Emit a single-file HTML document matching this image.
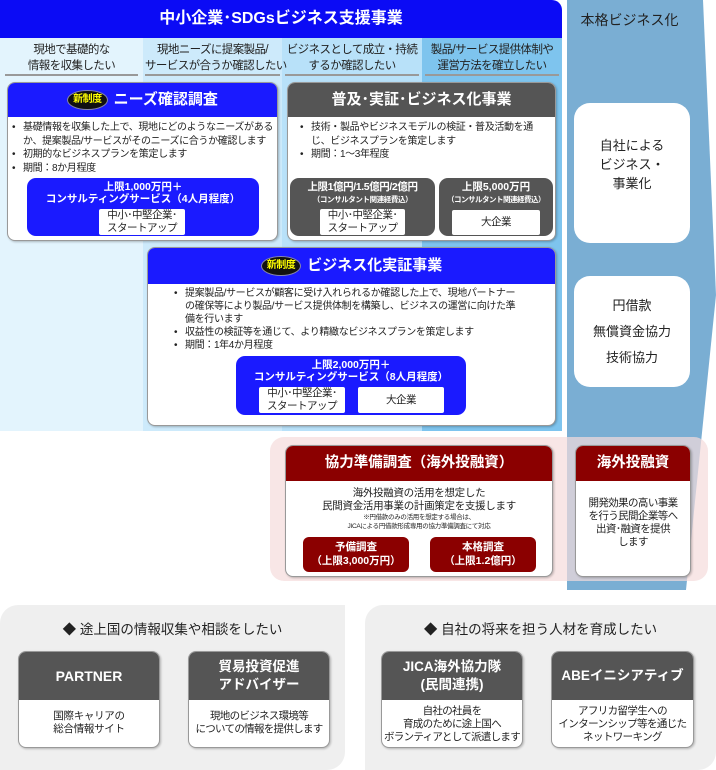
<!DOCTYPE html>
<html><head><meta charset="utf-8"><style>
*{margin:0;padding:0;box-sizing:border-box}
body{width:716px;height:770px;position:relative;background:#fff;font-family:"Liberation Sans","Noto Sans CJK JP",sans-serif;overflow:hidden;color:#222}
.a{position:absolute}
.c{text-align:center}
.card{position:absolute;background:#fff;border:1px solid #999;border-radius:8px;overflow:hidden;box-shadow:1px 1px 2px rgba(0,0,0,.25)}
.hd{color:#fff;font-weight:bold;text-align:center;white-space:nowrap}
.blue{background:#1a1aff}
.gray{background:#555}
.red{background:#8b0000}
ul{list-style:none;font-size:10px;line-height:13.5px;letter-spacing:-0.35px}
ul li{padding-left:13px;position:relative}
ul li:before{content:"•";position:absolute;left:2px}
.wb{position:absolute;background:#fff;border-radius:2px;font-size:10.5px;line-height:12.5px;text-align:center;color:#222;letter-spacing:-0.5px;font-weight:normal}
.badge{display:inline-block;background:#111;color:#ff0;border:1px solid #88a;border-radius:50%;font-size:10px;line-height:16px;padding:1px 5px;vertical-align:middle;margin-right:6px;letter-spacing:-0.5px}
.lbl{position:absolute;top:40px;height:36px;font-size:11.5px;line-height:16px;text-align:center;border-bottom:2px solid #999;padding-top:2px;letter-spacing:-0.6px;white-space:nowrap}
.t{letter-spacing:-0.3px}
</style></head><body>
<div class="a" style="left:0;top:38px;width:143px;height:393px;background:#e3f4fd"></div>
<div class="a" style="left:143px;top:38px;width:139px;height:393px;background:#cdeafb"></div>
<div class="a" style="left:282px;top:38px;width:140px;height:393px;background:#b8e1f9"></div>
<div class="a" style="left:422px;top:38px;width:140px;height:393px;background:#7ec4ee"></div>
<div class="a hd blue" style="left:0;top:0;width:562px;height:38px;border-radius:0 10px 0 0;font-size:16px;line-height:38px;background:#0b0bf5">中小企業･SDGsビジネス支援事業</div>
<div class="lbl" style="left:5px;width:133px">現地で基礎的な<br>情報を収集したい</div>
<div class="lbl" style="left:145px;width:135px">現地ニーズに提案製品/<br>サービスが合うか確認したい</div>
<div class="lbl" style="left:285px;width:134px">ビジネスとして成立・持続<br>するか確認したい</div>
<div class="lbl" style="left:425px;width:134px">製品/サービス提供体制や<br>運営方法を確立したい</div>
<svg class="a" style="left:0;top:0" width="716" height="770"><polygon points="567,0 703,0 716,295 686,590 567,590" fill="#7aaed3"/></svg>
<div class="a c" style="left:567px;top:10px;width:125px;font-size:14px;color:#222">本格ビジネス化</div>
<div class="a c" style="left:574px;top:103px;width:116px;height:140px;background:#fff;border-radius:16px;font-size:13px;line-height:19px;padding-top:33px">自社による<br>ビジネス・<br>事業化</div>
<div class="a c" style="left:574px;top:276px;width:116px;height:111px;background:#fff;border-radius:16px;font-size:13px;line-height:26px;padding-top:17px">円借款<br>無償資金協力<br>技術協力</div>
<!-- card1 -->
<div class="card" style="left:7px;top:82px;width:271px;height:159px">
<div class="hd blue" style="height:34px;font-size:15px;line-height:34px"><span class="badge">新制度</span>ニーズ確認調査</div>
<ul style="margin:4px 2px 0 2px"><li>基礎情報を収集した上で、現地にどのようなニーズがあるか、提案製品/サービスがそのニーズに合うか確認します</li><li>初期的なビジネスプランを策定します</li><li>期間：8か月程度</li></ul>
</div>
<div class="a hd blue" style="left:27px;top:178px;width:232px;height:58px;border-radius:9px;font-size:10.5px;line-height:12px;padding-top:3px">上限1,000万円＋<br>コンサルティングサービス（4人月程度）</div>
<div class="wb" style="left:99px;top:209px;width:86px;height:26px">中小･中堅企業･<br>スタートアップ</div>
<!-- card2 -->
<div class="card" style="left:287px;top:82px;width:269px;height:159px">
<div class="hd gray" style="height:34px;font-size:15px;line-height:34px">普及･実証･ビジネス化事業</div>
<ul style="margin:4px 6px 0 10px"><li>技術・製品やビジネスモデルの検証・普及活動を通じ、ビジネスプランを策定します</li><li>期間：1～3年程度</li></ul>
</div>
<div class="a hd gray" style="left:290px;top:178px;width:145px;height:58px;border-radius:9px;font-size:10.5px;line-height:12px;padding-top:3px;letter-spacing:-0.4px">上限1億円/1.5億円/2億円<br><span style="font-size:7.5px">（コンサルタント関連経費込）</span></div>
<div class="wb" style="left:320px;top:209px;width:85px;height:26px">中小･中堅企業･<br>スタートアップ</div>
<div class="a hd gray" style="left:439px;top:178px;width:114px;height:58px;border-radius:9px;font-size:10.5px;line-height:12px;padding-top:3px">上限5,000万円<br><span style="font-size:7.5px;letter-spacing:-0.5px">（コンサルタント関連経費込）</span></div>
<div class="wb" style="left:452px;top:210px;width:88px;height:25px;line-height:25px">大企業</div>
<!-- card3 -->
<div class="card" style="left:147px;top:247px;width:409px;height:179px">
<div class="hd blue" style="height:36px;font-size:15px;line-height:36px"><span class="badge">新制度</span>ビジネス化実証事業</div>
<ul style="margin:3px 32px 0 24px;line-height:13px"><li>提案製品/サービスが顧客に受け入れられるか確認した上で、現地パートナーの確保等により製品/サービス提供体制を構築し、ビジネスの運営に向けた準備を行います</li><li>収益性の検証等を通じて、より精緻なビジネスプランを策定します</li><li>期間：1年4か月程度</li></ul>
</div>
<div class="a hd blue" style="left:236px;top:356px;width:230px;height:59px;border-radius:9px;font-size:10.5px;line-height:12px;padding-top:3px">上限2,000万円＋<br>コンサルティングサービス（8人月程度）</div>
<div class="wb" style="left:259px;top:387px;width:86px;height:26px">中小･中堅企業･<br>スタートアップ</div>
<div class="wb" style="left:358px;top:387px;width:86px;height:26px;line-height:26px">大企業</div>
<!-- pink -->
<div class="a" style="left:270px;top:437px;width:438px;height:144px;background:rgba(245,220,220,.7);border-radius:14px"></div>
<div class="card" style="left:285px;top:445px;width:268px;height:132px">
<div class="hd red" style="height:35px;font-size:14.5px;line-height:35px">協力準備調査（海外投融資）</div>
<div class="c t" style="font-size:10.5px;line-height:13px;margin-top:6px">海外投融資の活用を想定した<br>民間資金活用事業の計画策定を支援します</div>
<div class="c t" style="font-size:6.5px;line-height:9px">※円借款のみの活用を想定する場合は、<br>JICAによる円借款形成専用の協力準備調査にて対応</div>
</div>
<div class="a hd red" style="left:303px;top:537px;width:106px;height:35px;border-radius:6px;font-size:10.5px;line-height:14px;padding-top:3px">予備調査<br>（上限3,000万円）</div>
<div class="a hd red" style="left:430px;top:537px;width:106px;height:35px;border-radius:6px;font-size:10.5px;line-height:14px;padding-top:3px">本格調査<br>（上限1.2億円）</div>
<div class="card" style="left:575px;top:445px;width:116px;height:132px">
<div class="hd red" style="height:35px;font-size:14.5px;line-height:35px">海外投融資</div>
<div class="c t" style="font-size:10.5px;line-height:13px;margin-top:16px;letter-spacing:-0.6px">開発効果の高い事業<br>を行う民間企業等へ<br>出資･融資を提供<br>します</div>
</div>
<!-- bottom -->
<div class="a" style="left:0;top:605px;width:345px;height:165px;background:#efefef;border-radius:18px 0 18px 0"></div>
<div class="a" style="left:365px;top:605px;width:351px;height:165px;background:#efefef;border-radius:18px 0 18px 0"></div>
<div class="a c" style="left:0;top:618px;width:345px;font-size:13.5px">◆ 途上国の情報収集や相談をしたい</div>
<div class="a c" style="left:365px;top:618px;width:351px;font-size:13.5px">◆ 自社の将来を担う人材を育成したい</div>
<div class="card" style="left:18px;top:651px;width:142px;height:97px"><div class="hd gray" style="height:48px;font-size:14px;line-height:48px">PARTNER</div><div class="c t" style="font-size:10.5px;line-height:13px;margin-top:10px">国際キャリアの<br>総合情報サイト</div></div>
<div class="card" style="left:188px;top:651px;width:142px;height:97px"><div class="hd gray" style="height:48px;font-size:13.5px;line-height:18px;padding-top:6px">貿易投資促進<br>アドバイザー</div><div class="c" style="font-size:10.5px;line-height:13px;margin-top:10px;letter-spacing:-0.7px">現地のビジネス環境等<br>についての情報を提供します</div></div>
<div class="card" style="left:381px;top:651px;width:142px;height:97px"><div class="hd gray" style="height:48px;font-size:13.5px;line-height:18px;padding-top:6px">JICA海外協力隊<br>(民間連携)</div><div class="c" style="font-size:10.5px;line-height:13px;margin-top:5px;letter-spacing:-0.7px">自社の社員を<br>育成のために途上国へ<br>ボランティアとして派遣します</div></div>
<div class="card" style="left:551px;top:651px;width:143px;height:97px"><div class="hd gray" style="height:48px;font-size:13.5px;line-height:48px">ABEイニシアティブ</div><div class="c" style="font-size:10.5px;line-height:13px;margin-top:5px;letter-spacing:-0.6px">アフリカ留学生への<br>インターンシップ等を通じた<br>ネットワーキング</div></div>
</body></html>
